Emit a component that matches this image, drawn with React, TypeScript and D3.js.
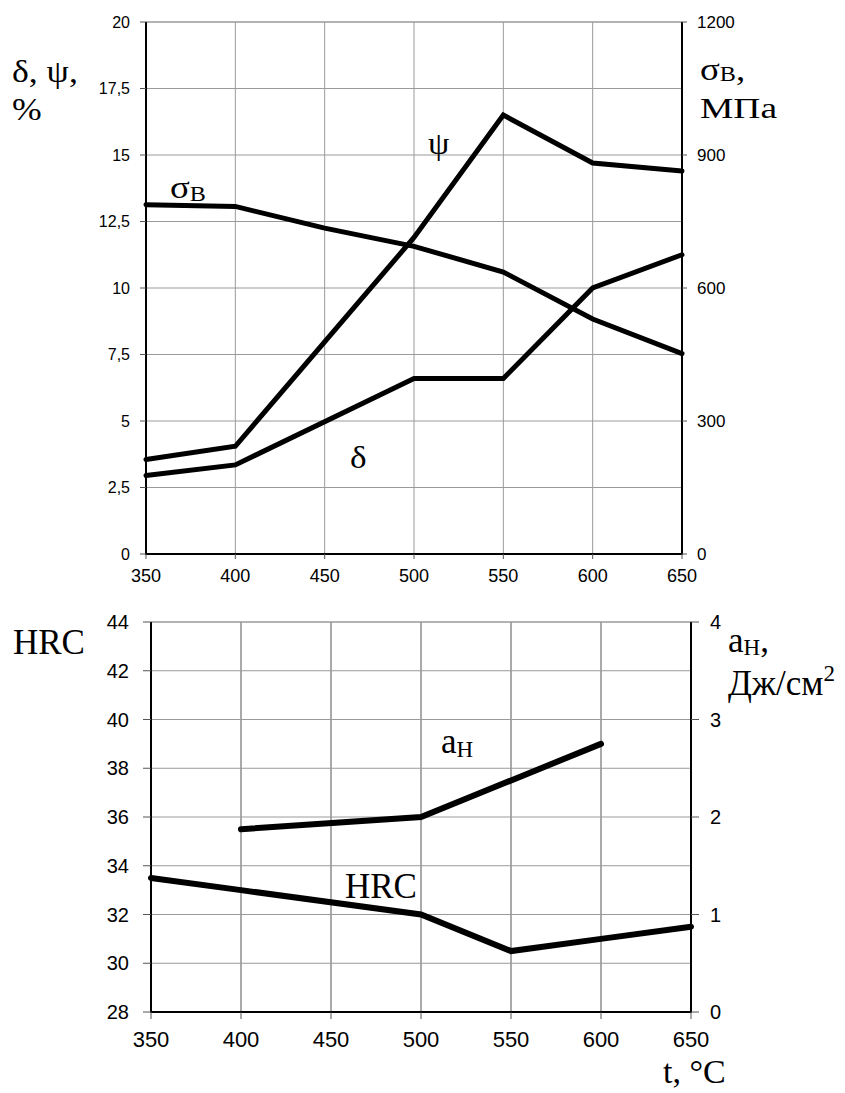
import React from "react";
import * as d3 from "d3";

// temperature axis, °C
const TEMPS = [350, 400, 450, 500, 550, 600, 650];

// top chart: elongation and reduction of area, %; tensile strength, MPa
const PSI_T = [350, 400, 500, 550, 600, 650];
const PSI = [3.55, 4.05, 11.9, 16.5, 14.7, 14.4];
const DELTA_T = [350, 400, 500, 550, 600, 650];
const DELTA = [2.95, 3.35, 6.6, 6.6, 10.0, 11.25];
const SIGMA_T = [350, 400, 450, 500, 550, 600, 650];
const SIGMA = [788, 784, 735, 694, 636, 530, 452];

// bottom chart: hardness HRC, impact toughness J/cm2
const HRC_T = [350, 400, 500, 550, 600, 650];
const HRC = [33.5, 33.0, 32.0, 30.5, 31.0, 31.5];
const AH_T = [400, 500, 600];
const AH = [1.875, 2.0, 2.75];

const TOP_LEFT_TICKS = [0, 2.5, 5, 7.5, 10, 12.5, 15, 17.5, 20];
const TOP_RIGHT_TICKS = [0, 300, 600, 900, 1200];
const BOT_LEFT_TICKS = [28, 30, 32, 34, 36, 38, 40, 42, 44];
const BOT_RIGHT_TICKS = [0, 1, 2, 3, 4];

const SANS = "'Liberation Sans', Arial, sans-serif";
const SERIF = "'Liberation Serif', 'Times New Roman', serif";
const GRID = "#9a9a9a";

const fmt = (v: number) => String(v).replace(".", ",");

type Pt = [number, number];

const App: React.FC = () => {
  // top chart scales
  const x1 = d3.scaleLinear().domain([350, 650]).range([146, 682]);
  const y1 = d3.scaleLinear().domain([0, 20]).range([554, 22]);
  const y1r = d3.scaleLinear().domain([0, 1200]).range([554, 22]);
  // bottom chart scales
  const x2 = d3.scaleLinear().domain([350, 650]).range([151, 691]);
  const y2 = d3.scaleLinear().domain([28, 44]).range([1012, 622]);
  const y2r = d3.scaleLinear().domain([0, 4]).range([1012, 622]);

  const line = d3.line<Pt>().x((d) => d[0]).y((d) => d[1]);

  const psiPath = line(PSI_T.map((t, i) => [x1(t), y1(PSI[i])] as Pt))!;
  const deltaPath = line(DELTA_T.map((t, i) => [x1(t), y1(DELTA[i])] as Pt))!;
  const sigmaPath = line(SIGMA_T.map((t, i) => [x1(t), y1r(SIGMA[i])] as Pt))!;
  const hrcPath = line(HRC_T.map((t, i) => [x2(t), y2(HRC[i])] as Pt))!;
  const ahPath = line(AH_T.map((t, i) => [x2(t), y2r(AH[i])] as Pt))!;

  // stretched serif label helper
  const Lbl = (p: { x: number; y: number; sx?: number; size: number; children: React.ReactNode }) => (
    <text
      transform={`translate(${p.x},${p.y}) scale(${p.sx ?? 1},1)`}
      fontFamily={SERIF}
      fontSize={p.size}
      fill="#000"
    >
      {p.children}
    </text>
  );

  return (
    <svg
      width={845}
      height={1093}
      style={{ position: "absolute", left: 0, top: 0, background: "#fff" }}
    >
      {/* ---------- top chart ---------- */}
      <g>
        {TEMPS.slice(1, -1).map((t) => (
          <line key={t} x1={x1(t)} x2={x1(t)} y1={22} y2={554} stroke={GRID} strokeWidth={1} />
        ))}
        {TOP_LEFT_TICKS.slice(1).map((v) => (
          <line key={v} x1={146} x2={682} y1={y1(v)} y2={y1(v)} stroke={GRID} strokeWidth={v === 20 ? 1.5 : 1} />
        ))}
        {/* axes */}
        <line x1={146} x2={146} y1={22} y2={555} stroke="#000" strokeWidth={2} />
        <line x1={682} x2={682} y1={22} y2={555} stroke="#000" strokeWidth={2} />
        <line x1={145} x2={683} y1={554} y2={554} stroke="#000" strokeWidth={2} />
        {TOP_LEFT_TICKS.map((v) => (
          <g key={v}>
            <line x1={140} x2={146} y1={y1(v)} y2={y1(v)} stroke="#555" strokeWidth={1} />
            <text x={130} y={y1(v)} dy="0.35em" textAnchor="end" fontFamily={SANS} fontSize={16}>
              {fmt(v)}
            </text>
          </g>
        ))}
        {TOP_RIGHT_TICKS.map((v) => (
          <g key={v}>
            <line x1={682} x2={687} y1={y1r(v)} y2={y1r(v)} stroke="#555" strokeWidth={1} />
            <text x={697} y={y1r(v)} dy="0.35em" textAnchor="start" fontFamily={SANS} fontSize={17}>
              {v}
            </text>
          </g>
        ))}
        {TEMPS.map((t) => (
          <g key={t}>
            <line x1={x1(t)} x2={x1(t)} y1={554} y2={559} stroke="#555" strokeWidth={1} />
            <text x={x1(t)} y={582} textAnchor="middle" fontFamily={SANS} fontSize={18}>
              {t}
            </text>
          </g>
        ))}
        {/* series */}
        <path d={sigmaPath} fill="none" stroke="#000" strokeWidth={5} strokeLinecap="round" />
        <path d={psiPath} fill="none" stroke="#000" strokeWidth={5} strokeLinecap="round" />
        <path d={deltaPath} fill="none" stroke="#000" strokeWidth={5} strokeLinecap="round" />
        {/* labels */}
        <Lbl x={12} y={82} size={31} sx={1.15}>δ, ψ,</Lbl>
        <Lbl x={12} y={120} size={31} sx={1.15}>%</Lbl>
        <Lbl x={700} y={80} size={32} sx={1.15}>
          σ<tspan fontSize={21} dy={1}>B</tspan>
          <tspan dy={-1}>,</tspan>
        </Lbl>
        <Lbl x={700} y={118} size={30} sx={1.25}>МПа</Lbl>
        <Lbl x={170} y={198} size={32} sx={1.15}>
          σ<tspan fontSize={21} dy={3}>B</tspan>
        </Lbl>
        <Lbl x={428} y={154} size={31} sx={1.1}>ψ</Lbl>
        <Lbl x={350} y={468} size={32} sx={1.1}>δ</Lbl>
      </g>

      {/* ---------- bottom chart ---------- */}
      <g>
        {TEMPS.slice(1, -1).map((t) => (
          <line key={t} x1={x2(t)} x2={x2(t)} y1={622} y2={1012} stroke="#555" strokeWidth={1} />
        ))}
        {BOT_LEFT_TICKS.slice(1).map((v) => (
          <line key={v} x1={151} x2={691} y1={y2(v)} y2={y2(v)} stroke={GRID} strokeWidth={v === 44 ? 1.5 : 1} />
        ))}
        <line x1={151} x2={151} y1={622} y2={1013} stroke="#000" strokeWidth={2} />
        <line x1={691} x2={691} y1={622} y2={1013} stroke="#000" strokeWidth={2} />
        <line x1={150} x2={692} y1={1012} y2={1012} stroke="#000" strokeWidth={2} />
        {BOT_LEFT_TICKS.map((v) => (
          <g key={v}>
            <line x1={143} x2={151} y1={y2(v)} y2={y2(v)} stroke="#555" strokeWidth={1} />
            <text x={129} y={y2(v)} dy="0.35em" textAnchor="end" fontFamily={SANS} fontSize={20}>
              {v}
            </text>
          </g>
        ))}
        {BOT_RIGHT_TICKS.map((v) => (
          <g key={v}>
            <line x1={691} x2={699} y1={y2r(v)} y2={y2r(v)} stroke="#555" strokeWidth={1} />
            <text x={710} y={y2r(v)} dy="0.35em" textAnchor="start" fontFamily={SANS} fontSize={20}>
              {v}
            </text>
          </g>
        ))}
        {TEMPS.map((t) => (
          <g key={t}>
            <line x1={x2(t)} x2={x2(t)} y1={1012} y2={1019} stroke="#555" strokeWidth={1} />
            <text x={x2(t)} y={1047} textAnchor="middle" fontFamily={SANS} fontSize={22}>
              {t}
            </text>
          </g>
        ))}
        <path d={hrcPath} fill="none" stroke="#000" strokeWidth={6} strokeLinecap="round" />
        <path d={ahPath} fill="none" stroke="#000" strokeWidth={6} strokeLinecap="round" />
        <Lbl x={13} y={654} size={35}>HRC</Lbl>
        <Lbl x={345} y={898} size={35}>HRC</Lbl>
        <Lbl x={441} y={753} size={35}>
          a<tspan fontSize={23} dy={4}>H</tspan>
        </Lbl>
        <Lbl x={728} y={652} size={35}>
          a<tspan fontSize={23} dy={3}>H</tspan>
          <tspan dy={-3}>,</tspan>
        </Lbl>
        <Lbl x={728} y={695} size={35}>
          Дж/см<tspan fontSize={23} dy={-14}>2</tspan>
        </Lbl>
        <Lbl x={663} y={1083} size={34}>t, °C</Lbl>
      </g>
    </svg>
  );
};

export default App;
